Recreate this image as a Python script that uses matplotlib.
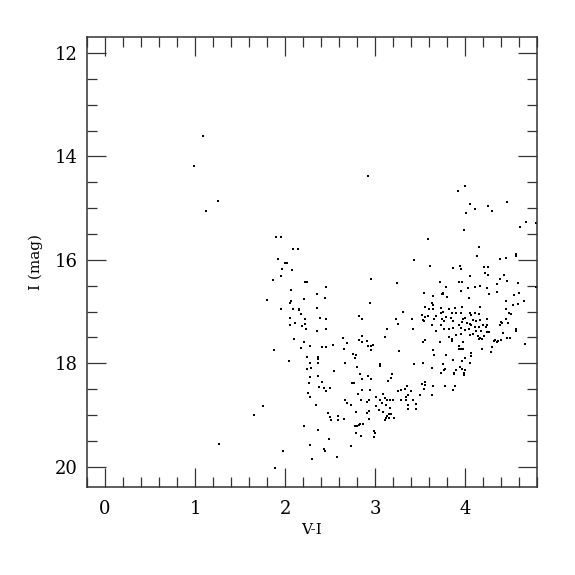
import matplotlib
matplotlib.use("Agg")
import matplotlib.pyplot as plt
from matplotlib.ticker import MultipleLocator

plt.rcParams['font.family'] = ['DejaVu Serif']

# (V-I, I) pairs
stars = [
    (1.09, 13.61), (0.99, 14.19), (1.26, 14.86), (1.12, 15.05), (1.27, 19.56), (2.92, 14.37),
    # blue edge / lower branch
    (1.90, 15.55), (1.95, 15.55), (2.09, 15.80), (2.14, 15.79), (1.92, 15.98), (2.00, 16.07),
    (2.02, 16.06), (1.97, 16.18), (2.08, 16.20), (1.96, 16.31), (1.87, 16.40), (2.22, 16.43),
    (2.24, 16.42), (2.45, 16.52), (2.07, 16.59), (2.36, 16.66), (1.80, 16.78), (2.07, 16.79),
    (2.06, 16.83), (2.21, 16.75), (2.44, 16.74), (1.96, 16.96), (2.09, 16.95), (2.16, 16.95),
    (2.16, 16.98), (2.35, 16.94), (2.18, 17.05), (2.06, 17.12), (2.22, 17.15), (2.39, 17.13),
    (2.46, 17.15), (2.11, 17.23), (2.05, 17.26), (2.22, 17.24), (2.19, 17.28), (2.23, 17.34),
    (2.35, 17.38), (2.45, 17.34), (2.10, 17.53),
    (2.21, 17.58), (2.28, 17.67), (2.18, 17.70), (2.41, 17.69), (2.46, 17.69), (2.53, 17.65),
    (1.88, 17.74), (2.24, 17.87), (2.37, 17.87), (2.37, 17.91), (2.04, 17.96), (2.28, 18.00),
    (2.37, 17.99), (2.29, 18.09), (2.24, 18.12), (2.54, 18.16), (2.37, 18.24), (2.28, 18.27),
    (2.41, 18.36), (2.27, 18.38), (2.38, 18.46), (2.43, 18.48), (2.50, 18.48), (2.45, 18.53),
    (2.26, 18.58), (2.28, 18.65), (2.34, 18.81), (1.76, 18.82), (1.66, 19.00), (2.48, 18.97),
    (2.50, 19.04), (2.59, 19.02), (2.51, 19.10), (2.59, 19.09), (2.21, 19.21), (2.37, 19.29),
    (2.49, 19.46), (2.28, 19.58), (2.43, 19.66), (2.44, 19.69), (1.98, 19.70), (2.58, 19.81),
    (2.30, 19.85), (1.89, 20.03),
    # middle
    (2.64, 17.51), (2.86, 17.47), (2.82, 17.55), (2.86, 17.58), (2.91, 17.57), (2.96, 17.66),
    (2.92, 17.67), (2.98, 17.64), (3.11, 17.49), (2.69, 17.60), (2.65, 17.73), (2.95, 17.75),
    (3.27, 17.76), (2.76, 17.82), (2.79, 17.85), (2.78, 17.89), (2.67, 17.99), (3.06, 18.02),
    (3.06, 18.06), (3.43, 18.02), (2.80, 18.07), (2.83, 18.21), (2.92, 18.25), (2.95, 18.31),
    (2.85, 18.31), (3.19, 18.21), (3.18, 18.28), (3.14, 18.34), (2.74, 18.38), (2.77, 18.38),
    (3.35, 18.45), (3.33, 18.49), (3.29, 18.51), (3.26, 18.53), (3.40, 18.54), (2.86, 18.52),
    (2.94, 18.52), (2.81, 18.60), (3.09, 18.60), (3.01, 18.66), (3.34, 18.65), (3.37, 18.62),
    (3.11, 18.67), (3.13, 18.71), (2.93, 18.72), (2.91, 18.75), (2.84, 18.71), (3.06, 18.71),
    (3.17, 18.72), (3.20, 18.72), (3.29, 18.72), (3.34, 18.72), (3.42, 18.72), (3.45, 18.79),
    (2.67, 18.71), (2.69, 18.76), (2.73, 18.80), (3.01, 18.83), (3.08, 18.76), (3.12, 18.81),
    (3.17, 18.87), (3.37, 18.80), (3.37, 18.88), (3.46, 18.89), (3.04, 18.91), (2.93, 18.92),
    (2.91, 18.96), (2.79, 18.94), (3.09, 18.95), (3.15, 18.98), (3.18, 18.99), (3.13, 19.02),
    (3.16, 19.05), (3.21, 19.05), (3.12, 19.06), (3.11, 19.10), (2.93, 19.07), (2.66, 19.07),
    (2.83, 19.17), (2.82, 19.19), (2.80, 19.22), (2.78, 19.22), (2.87, 19.18), (2.99, 19.32),
    (3.00, 19.34), (2.79, 19.34), (2.84, 19.41), (2.99, 19.43), (2.73, 19.61),
    (3.43, 16.00), (2.96, 16.37), (3.24, 16.44), (2.94, 16.84), (3.31, 17.00), (2.82, 17.09),
    (2.86, 17.15), (3.23, 17.15), (3.41, 17.15), (3.25, 17.24), (3.13, 17.33), (3.42, 17.34),
    # red clump / giant branch
    (4.00, 14.57), (3.92, 14.66), (4.06, 14.93), (4.01, 15.09), (4.11, 15.01), (4.26, 14.95),
    (4.30, 15.06), (4.47, 14.88), (4.68, 15.27), (4.61, 15.37), (4.79, 15.28), (3.99, 15.42),
    (3.59, 15.59), (4.15, 15.75), (4.13, 15.93), (4.57, 15.88), (4.57, 15.92), (4.39, 15.99),
    (4.46, 15.96), (3.61, 16.11), (3.94, 16.11), (4.21, 16.13), (4.25, 16.13),
    (3.87, 16.15), (3.95, 16.17), (4.22, 16.26), (4.26, 16.30), (4.05, 16.31), (4.43, 16.29),
    (4.39, 16.37), (4.47, 16.41), (3.72, 16.43), (3.93, 16.43), (3.97, 16.42), (4.36, 16.47),
    (4.59, 16.44), (4.11, 16.52), (4.17, 16.51), (3.79, 16.53), (4.03, 16.54), (4.24, 16.55),
    (3.54, 16.64), (3.76, 16.64), (3.74, 16.66), (3.76, 16.67), (3.95, 16.60), (4.35, 16.62),
    (4.27, 16.66), (4.54, 16.69), (4.60, 16.65), (4.79, 16.52), (3.64, 16.70), (3.80, 16.71),
    (4.04, 16.74), (4.65, 16.79), (4.45, 16.80), (4.53, 16.87), (4.59, 16.86), (3.63, 16.84),
    (3.64, 16.87), (3.55, 16.91), (3.97, 16.91), (4.17, 16.92), (3.73, 16.94), (3.82, 16.95),
    (3.89, 16.94), (3.60, 16.95), (3.64, 16.96), (4.46, 16.95), (3.76, 17.01), (3.73, 17.02),
    (3.86, 17.02), (3.90, 17.03), (4.05, 17.03), (4.07, 17.07), (4.11, 17.03), (4.16, 17.05),
    (3.95, 17.02), (4.49, 17.02), (4.51, 17.05), (3.52, 17.07), (3.55, 17.10), (3.59, 17.09),
    (3.68, 17.08), (3.79, 17.10), (3.84, 17.13), (3.98, 17.14), (4.00, 17.13), (3.53, 17.16),
    (3.54, 17.18), (3.65, 17.15), (3.74, 17.15), (3.77, 17.18), (3.87, 17.18), (4.09, 17.16),
    (4.12, 17.18), (4.17, 17.17), (4.24, 17.15), (4.40, 17.20), (4.41, 17.23), (4.46, 17.15),
    (4.48, 17.22), (3.97, 17.20), (4.02, 17.22), (4.05, 17.25), (3.63, 17.27), (3.73, 17.27),
    (3.93, 17.26), (4.07, 17.27), (4.11, 17.29), (4.16, 17.29), (4.20, 17.27), (4.24, 17.26),
    (4.23, 17.29), (4.39, 17.27), (3.77, 17.33), (3.82, 17.33), (3.87, 17.32), (3.96, 17.32),
    (4.04, 17.34), (4.57, 17.33), (4.57, 17.38), (3.68, 17.38), (4.00, 17.36), (4.12, 17.37),
    (4.18, 17.38), (4.24, 17.40), (4.27, 17.40), (4.42, 17.42), (3.96, 17.44), (3.82, 17.49),
    (3.85, 17.53), (3.86, 17.57), (3.90, 17.46), (4.05, 17.45), (4.09, 17.44), (4.14, 17.47),
    (4.17, 17.51), (4.15, 17.54), (4.19, 17.54), (4.21, 17.48), (4.33, 17.55), (4.36, 17.58),
    (4.37, 17.57), (4.32, 17.57), (4.40, 17.56), (4.47, 17.51), (4.50, 17.51), (4.67, 17.63),
    (3.56, 17.56), (3.53, 17.59), (3.72, 17.59), (3.98, 17.58), (3.93, 17.66), (4.30, 17.69),
    (4.19, 17.73), (3.93, 17.72), (3.96, 17.72), (3.98, 17.72), (4.07, 17.80), (4.07, 17.86),
    (3.64, 17.74), (3.65, 17.85), (4.29, 17.79), (3.79, 17.85), (3.87, 17.94), (4.00, 17.90),
    (3.97, 17.96), (4.05, 17.99), (3.76, 18.02), (3.53, 18.00), (3.63, 18.09), (3.94, 18.08),
    (3.97, 18.11), (3.78, 18.11), (3.77, 18.14), (3.90, 18.14), (4.00, 18.14), (3.99, 18.18),
    (3.73, 18.18), (3.88, 18.21), (3.88, 18.18), (3.99, 18.22), (3.56, 18.36), (3.52, 18.40),
    (3.55, 18.42), (3.64, 18.44), (3.78, 18.44), (3.89, 18.45), (3.87, 18.51), (3.54, 18.49),
    (3.50, 18.61), (3.63, 18.61),
]
vi = [s[0] for s in stars]
imag = [s[1] for s in stars]

fig = plt.figure(figsize=(5.75, 5.75), dpi=100)
ax = fig.add_axes([0.1513, 0.1525, 0.7827, 0.7832])

ax.plot(vi, imag, ls='none', marker='s', ms=1.8, mew=0, color='black')

ax.set_xlim(-0.2, 4.8)
ax.set_ylim(20.4, 11.69)

ax.xaxis.set_major_locator(MultipleLocator(1))
ax.xaxis.set_minor_locator(MultipleLocator(0.2))
ax.yaxis.set_major_locator(MultipleLocator(2))
ax.yaxis.set_minor_locator(MultipleLocator(0.5))

for s in ax.spines.values():
    s.set_color('#333333')
    s.set_linewidth(1.1)
ax.tick_params(which='both', direction='in', top=True, right=True,
               color='#333333', width=0.9, labelsize=13)
ax.tick_params(which='major', length=13.5)
ax.tick_params(which='minor', length=7)
ax.tick_params(axis='x', which='major', pad=9)
ax.tick_params(axis='y', which='major', pad=7)

ax.set_xlabel('V-I', fontsize=11, labelpad=4)
ax.set_ylabel('I (mag)', fontsize=11, labelpad=8)

fig.savefig('out.png', dpi=100)
